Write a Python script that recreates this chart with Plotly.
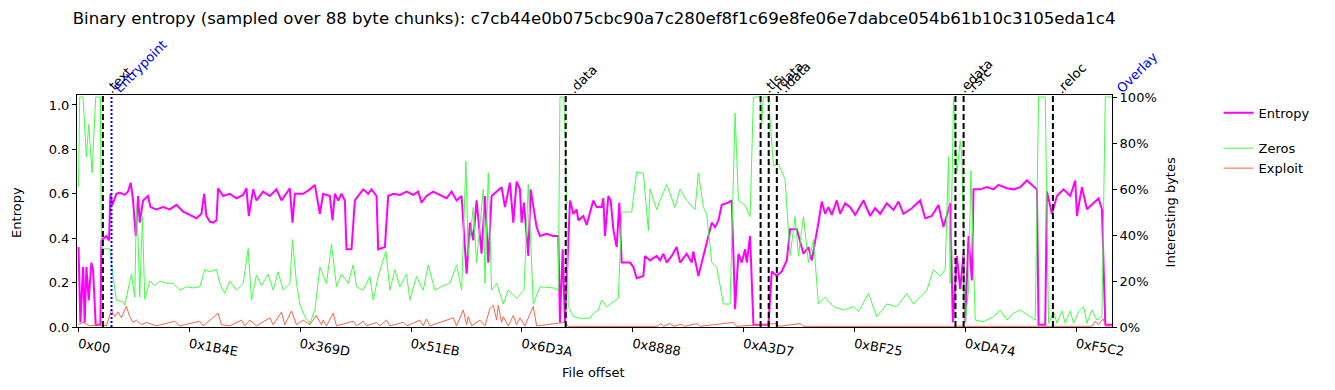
import plotly.graph_objects as go

TITLE = "Binary entropy (sampled over 88 byte chunks): c7cb44e0b075cbc90a7c280ef8f1c69e8fe06e7dabce054b61b10c3105eda1c4"

tick_offsets = [0, 6990, 13981, 20971, 27962, 34952, 41943, 48933, 55924, 62914]
tick_labels = ["0x00", "0x1B4E", "0x369D", "0x51EB", "0x6D3A", "0x8888", "0xA3D7", "0xBF25", "0xDA74", "0xF5C2"]

section_names = [".text", ".data", ".tls", ".rdata", ".idata", ".edata", ".rsrc", ".reloc"]
section_offsets = [1536, 30720, 43008, 43520, 44032, 55296, 55808, 61440]
entrypoint_offset = 2080
overlay_offset = 65300
x_min, file_end = -95, 65166

entropy_offsets = [0, 118, 286, 391, 497, 644, 812, 917, 1085, 1380, 1443, 1758, 1927, 2011, 2137, 2389, 2600, 2915, 3125, 3293,
    3441, 3609, 3756, 3861, 4072, 4387, 4534, 4913, 5333, 5754, 6175, 6595, 7016, 7436, 7752, 7920, 8067, 8278, 8488, 8698,
    8803, 9119, 9539, 9960, 10381, 10591, 10738, 11012, 11222, 11642, 12063, 12484, 12799, 13325, 13493, 13640, 14166, 14587, 14902, 15218,
    15427, 15848, 16016, 16163, 16374, 16584, 16794, 16899, 17215, 17425, 17951, 18266, 18477, 18792, 18897, 19318, 19528, 19844, 20264, 20685,
    21106, 21421, 21631, 21947, 22367, 22788, 23208, 23524, 23839, 24155, 24302, 24470, 24681, 24891, 25101, 25417, 25627, 25837, 26048, 26363,
    26679, 26889, 27204, 27415, 27625, 27835, 27940, 28088, 28361, 28508, 28887, 29097, 29517, 29938, 30253, 30359, 30527, 30674, 30990, 31200,
    31411, 31516, 31831, 32041, 32252, 32462, 32672, 32988, 33093, 33198, 33408, 33556, 33724, 33934, 34102, 34250, 34775, 34986, 35196, 35617,
    35722, 36037, 36458, 36668, 36878, 37089, 37404, 37720, 37930, 38350, 38666, 38771, 39086, 39402, 39717, 39928, 40138, 40348, 40559, 40980,
    41190, 41400, 41610, 41821, 42031, 42136, 42346, 42557, 43503, 43713, 44029, 44344, 44659, 44869, 45290, 45711, 46026, 46237, 46657, 46867,
    47077, 47288, 47498, 47813, 48024, 48339, 48655, 48970, 49496, 49916, 50232, 50547, 50968, 51388, 51704, 52019, 52545, 53071, 53386, 53807,
    54227, 54543, 54964, 55132, 55384, 55594, 55805, 55910, 56120, 56330, 56436, 56856, 57277, 57697, 58013, 58539, 58959, 59380, 59800, 60431,
    60536, 60957, 61062, 61378, 61693, 62114, 62534, 62850, 62955, 63270, 63586, 64006, 64322, 64532, 64743, 65166]
entropy_values = [0.36, 0.02, 0.27, 0.02, 0.27, 0.12, 0.29, 0.26, 0.01, 0.01, 0.39, 0.41, 0.39, 0.60, 0.55, 0.60, 0.605, 0.595, 0.61, 0.65,
    0.57, 0.41, 0.59, 0.47, 0.57, 0.59, 0.54, 0.53, 0.54, 0.53, 0.55, 0.52, 0.505, 0.49, 0.51, 0.60, 0.50, 0.475, 0.47, 0.48,
    0.625, 0.59, 0.60, 0.58, 0.595, 0.625, 0.50, 0.62, 0.57, 0.61, 0.59, 0.62, 0.57, 0.625, 0.47, 0.60, 0.60, 0.62, 0.64, 0.51,
    0.60, 0.59, 0.48, 0.60, 0.57, 0.60, 0.57, 0.35, 0.35, 0.57, 0.62, 0.60, 0.62, 0.59, 0.35, 0.36, 0.59, 0.60, 0.595, 0.61,
    0.595, 0.61, 0.56, 0.59, 0.61, 0.595, 0.58, 0.61, 0.57, 0.59, 0.44, 0.24, 0.47, 0.39, 0.57, 0.33, 0.59, 0.29, 0.59, 0.61,
    0.63, 0.54, 0.65, 0.47, 0.655, 0.62, 0.47, 0.56, 0.32, 0.62, 0.45, 0.41, 0.42, 0.41, 0.41, 0.02, 0.35, 0.02, 0.57, 0.51,
    0.53, 0.48, 0.50, 0.46, 0.51, 0.57, 0.54, 0.54, 0.58, 0.41, 0.59, 0.57, 0.44, 0.36, 0.56, 0.29, 0.29, 0.27, 0.22, 0.23,
    0.32, 0.30, 0.32, 0.30, 0.33, 0.29, 0.32, 0.36, 0.29, 0.33, 0.29, 0.34, 0.23, 0.32, 0.41, 0.47, 0.45, 0.48, 0.55, 0.56,
    0.57, 0.08, 0.33, 0.29, 0.35, 0.29, 0.41, 0.01, 0.01, 0.25, 0.23, 0.25, 0.30, 0.44, 0.44, 0.33, 0.36, 0.30, 0.47, 0.565,
    0.51, 0.54, 0.505, 0.57, 0.51, 0.557, 0.54, 0.505, 0.57, 0.50, 0.535, 0.51, 0.557, 0.527, 0.565, 0.51, 0.535, 0.57, 0.49, 0.50,
    0.55, 0.45, 0.557, 0.02, 0.32, 0.17, 0.33, 0.02, 0.41, 0.21, 0.62, 0.62, 0.63, 0.62, 0.64, 0.625, 0.62, 0.63, 0.66, 0.62,
    0.01, 0.01, 0.61, 0.51, 0.59, 0.62, 0.59, 0.66, 0.50, 0.63, 0.53, 0.56, 0.58, 0.53, 0.01, 0.01]

zeros_offsets = [0, 76, 286, 497, 644, 854, 1085, 1380, 1443, 1969, 2074, 2179, 2389, 2810, 2915, 3125, 3336, 3546, 3651, 3756,
    3861, 4030, 4177, 4492, 4808, 5123, 5544, 5964, 6385, 6806, 7226, 7647, 7962, 8278, 8698, 8909, 9224, 9539, 9960, 10381,
    10696, 10906, 11222, 11537, 11958, 12273, 12589, 12904, 13325, 13493, 13745, 13956, 14271, 14587, 14902, 15218, 15638, 15953, 16269, 16584,
    17005, 17320, 17531, 17951, 18372, 18582, 18897, 19381, 19633, 19949, 20264, 20685, 20895, 21316, 21736, 22052, 22472, 22998, 23419, 23839,
    24155, 24428, 24575, 24891, 25101, 25522, 25627, 25837, 26048, 26363, 26784, 27099, 27625, 28088, 28361, 28676, 29097, 29938, 30253, 30359,
    30600, 30700, 30884, 31200, 31621, 32252, 32462, 32777, 32988, 33303, 33829, 34039, 34250, 34880, 35196, 35617, 35932, 36037, 36458, 36668,
    37089, 37614, 37930, 38350, 38876, 39086, 39402, 39612, 39928, 40243, 40664, 41085, 41400, 41610, 42031, 42346, 42557, 42977, 43082, 43187,
    43503, 43818, 44134, 44554, 44869, 45185, 45395, 45711, 46026, 46341, 46657, 47077, 47603, 48234, 48865, 49180, 49811, 50337, 50968, 51599,
    52230, 52650, 53071, 53491, 53912, 54333, 54648, 54858, 54964, 55175, 55384, 55594, 55700, 55910, 56120, 56267, 56541, 57067, 57697, 58118,
    58539, 58959, 59380, 60011, 60326, 60536, 60957, 61167, 61483, 61693, 62009, 62219, 62534, 62745, 63060, 63376, 63586, 63901, 64217, 64532,
    64743, 65166]
zeros_values = [0.61, 1.0, 1.0, 0.74, 0.88, 0.67, 1.0, 1.0, 0.34, 0.34, 0.29, 0.22, 0.117, 0.11, 0.096, 0.16, 0.23, 0.13, 0.52, 0.39,
    0.13, 0.48, 0.12, 0.20, 0.18, 0.20, 0.19, 0.19, 0.16, 0.175, 0.17, 0.175, 0.25, 0.24, 0.25, 0.19, 0.146, 0.20, 0.16, 0.19,
    0.34, 0.117, 0.226, 0.18, 0.23, 0.16, 0.24, 0.16, 0.19, 0.38, 0.19, 0.10, 0.045, 0.016, 0.074, 0.26, 0.19, 0.36, 0.175, 0.23,
    0.19, 0.27, 0.175, 0.16, 0.22, 0.117, 0.22, 0.33, 0.16, 0.25, 0.175, 0.23, 0.117, 0.22, 0.16, 0.27, 0.16, 0.18, 0.19, 0.27,
    0.16, 0.72, 0.31, 0.52, 0.28, 0.60, 0.19, 0.67, 0.16, 0.19, 0.10, 0.16, 0.125, 0.16, 0.62, 0.10, 0.175, 0.17, 0.16, 1.0,
    1.0, 0.80, 0.09, 0.045, 0.038, 0.038, 0.06, 0.074, 0.117, 0.088, 0.117, 0.125, 0.50, 0.50, 0.675, 0.668, 0.42, 0.60, 0.51, 0.55,
    0.62, 0.52, 0.60, 0.55, 0.51, 0.67, 0.52, 0.49, 0.28, 0.26, 0.10, 0.10, 0.93, 0.55, 0.53, 0.48, 1.0, 1.0, 0.885, 1.0,
    1.0, 0.70, 0.71, 0.64, 0.31, 0.48, 0.31, 0.48, 0.28, 0.38, 0.10, 0.13, 0.088, 0.074, 0.088, 0.067, 0.146, 0.045, 0.10, 0.088,
    0.146, 0.10, 0.13, 0.16, 0.25, 0.22, 0.25, 0.74, 0.19, 1.0, 0.67, 0.81, 0.74, 0.016, 0.16, 0.68, 0.03, 0.023, 0.045, 0.074,
    0.03, 0.06, 0.074, 0.045, 0.03, 1.0, 1.0, 0.016, 0.067, 0.016, 0.07, 0.016, 0.07, 0.016, 0.067, 0.088, 0.016, 0.074, 0.03, 0.045,
    1.0, 1.0]

exploit_offsets = [0, 286, 707, 1338, 1758, 2074, 2284, 2494, 2705, 3020, 3231, 3441, 3651, 3966, 4282, 4913, 6070, 6385, 7647, 7857,
    8803, 9014, 9539, 10276, 10486, 10801, 11222, 12063, 12273, 12799, 13009, 13430, 13745, 14166, 14587, 14986, 15323, 15427, 15638, 16058,
    16269, 17320, 17531, 17951, 18161, 18792, 19000, 19423, 19633, 20475, 20700, 21526, 21736, 21947, 22157, 23629, 23839, 24260, 24470, 24575,
    24786, 25311, 25627, 25942, 26153, 26363, 26468, 26679, 26784, 27099, 27415, 27625, 27835, 28151, 28676, 28887, 30674, 30884, 36500, 36700,
    36900, 37300, 37500, 38000, 38200, 39000, 39200, 41300, 41500, 44000, 44200, 45500, 45700, 63900, 64100, 64300, 64600, 64800, 65166]
exploit_values = [0.01, 0.02, 0.005, 0.01, 0.005, 0.074, 0.045, 0.065, 0.04, 0.09, 0.045, 0.02, 0.03, 0.01, 0.02, 0.005, 0.025, 0.005, 0.025, 0.005,
    0.06, 0.01, 0.005, 0.03, 0.005, 0.03, 0.005, 0.04, 0.01, 0.065, 0.01, 0.07, 0.01, 0.03, 0.01, 0.05, 0.01, 0.03, 0.005, 0.06,
    0.005, 0.025, 0.005, 0.025, 0.005, 0.02, 0.005, 0.03, 0.005, 0.02, 0.005, 0.03, 0.005, 0.035, 0.005, 0.04, 0.005, 0.074, 0.01, 0.045,
    0.005, 0.03, 0.005, 0.08, 0.095, 0.03, 0.095, 0.02, 0.045, 0.005, 0.05, 0.01, 0.04, 0.005, 0.09, 0.005, 0.02, 0.003, 0.003, 0.015,
    0.003, 0.015, 0.003, 0.012, 0.003, 0.015, 0.003, 0.02, 0.003, 0.015, 0.003, 0.015, 0.003, 0.003, 0.025, 0.01, 0.035, 0.0, 0.0]

FONT = "DejaVu Sans"
MAGENTA = "#ff00ff"
GREEN = "#44ff44"
ORANGE = "#f86448"

fig = go.Figure()
fig.add_trace(go.Scatter(x=entropy_offsets, y=entropy_values, mode="lines", name="Entropy",
                         line=dict(color=MAGENTA, width=2), legend="legend"))
fig.add_trace(go.Scatter(x=zeros_offsets, y=zeros_values, mode="lines", name="Zeros",
                         line=dict(color=GREEN, width=1), yaxis="y2", legend="legend2"))
fig.add_trace(go.Scatter(x=exploit_offsets, y=exploit_values, mode="lines", name="Exploit",
                         line=dict(color=ORANGE, width=1), yaxis="y2", legend="legend2"))

label_font = dict(family=FONT, size=13, color="black")
blue_font = dict(family=FONT, size=13, color="blue")
XS, YS = -3, -4
shapes = []
annotations = []
for name, off in zip(section_names, section_offsets):
    shapes.append(dict(type="line", xref="x", yref="paper", x0=off, x1=off, y0=0, y1=1,
                       line=dict(color="black", width=2, dash="6px,3px")))
    annotations.append(dict(text=name, x=off, y=1, xref="x", yref="paper", xanchor="left", yanchor="bottom",
                            textangle=-45, showarrow=False, xshift=XS, yshift=YS, font=label_font))
shapes.append(dict(type="line", xref="x", yref="paper", x0=entrypoint_offset, x1=entrypoint_offset, y0=0, y1=1,
                   line=dict(color="blue", width=2, dash="2px,2px")))
annotations.append(dict(text="Entrypoint", x=entrypoint_offset, y=1, xref="x", yref="paper", xanchor="left",
                        yanchor="bottom", textangle=-45, showarrow=False, xshift=XS, yshift=YS, font=blue_font))
# overlay starts beyond the plotted range: place its label in paper units
overlay_paper_x = (overlay_offset - x_min) / (file_end - x_min)
annotations.append(dict(text="Overlay", x=overlay_paper_x, y=1, xref="paper", yref="paper", xanchor="left",
                        yanchor="bottom", textangle=-45, showarrow=False, xshift=XS, yshift=YS, font=blue_font))
# axis titles
annotations.append(dict(text="Entropy", x=-0.058, y=0.496, xref="paper", yref="paper", showarrow=False,
                        textangle=-90, xanchor="center", yanchor="middle", font=label_font))
annotations.append(dict(text="Interesting bytes", x=1.0565, y=0.496, xref="paper", yref="paper", showarrow=False,
                        textangle=-90, xanchor="center", yanchor="middle", font=label_font))
annotations.append(dict(text="File offset", x=0.4995, y=-0.194, xref="paper", yref="paper", showarrow=False,
                        xanchor="center", yanchor="middle", font=label_font))

axis_font = dict(family=FONT, size=13, color="black")
common = dict(showgrid=False, zeroline=False, showline=True, linecolor="black", linewidth=1,
              ticks="outside", ticklen=4, tickcolor="black", tickfont=axis_font, automargin=False)
fig.update_layout(
    width=1335, height=390,
    margin=dict(l=69, r=231, t=87, b=71, autoexpand=False),
    plot_bgcolor="white", paper_bgcolor="white",
    font=dict(family=FONT, size=13, color="black"),
    title=dict(text=TITLE, x=0.439, xanchor="center", y=0.974, yanchor="middle",
               font=dict(family=FONT, size=16.6, color="black")),
    xaxis=dict(range=[x_min, file_end], tickvals=tick_offsets, ticktext=tick_labels, tickangle=10,
               mirror=True, **common),
    yaxis=dict(range=[0, 1.045], tickvals=[0, 0.2, 0.4, 0.6, 0.8, 1.0],
               ticktext=["0.0", "0.2", "0.4", "0.6", "0.8", "1.0"], **common),
    yaxis2=dict(range=[0, 1.0087], overlaying="y", side="right", tickvals=[0, 0.2, 0.4, 0.6, 0.8, 1.0],
                ticktext=["0%", "20%", "40%", "60%", "80%", "100%"], **common),
    legend=dict(x=1.103, y=0.988, xanchor="left", yanchor="top", font=axis_font, bgcolor="rgba(0,0,0,0)"),
    legend2=dict(x=1.103, y=0.835, xanchor="left", yanchor="top", font=axis_font, bgcolor="rgba(0,0,0,0)",
                 tracegroupgap=0),
    shapes=shapes,
    annotations=annotations,
    showlegend=True,
)
fig.write_html("out.html")
